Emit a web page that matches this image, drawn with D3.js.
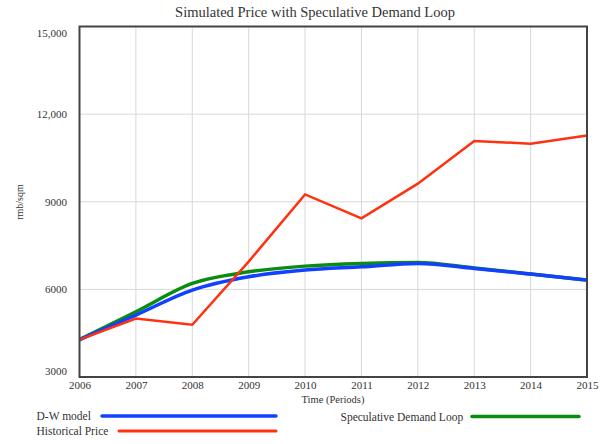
<!DOCTYPE html>
<html>
<head>
<meta charset="utf-8">
<script src="https://cdn.jsdelivr.net/npm/d3@7"></script>
<style>
  html, body { margin: 0; padding: 0; background: #fff; }
  svg { display: block; }
  text { font-family: "Liberation Serif", "Times New Roman", serif; fill: #333; }
</style>
</head>
<body>
<svg id="chart" width="605" height="444"></svg>
<script>
// Yearly series (rmb/sqm)
const years = [2006, 2007, 2008, 2009, 2010, 2011, 2012, 2013, 2014, 2015];
const historicalPrice = [4280, 5000, 4790, 6950, 9250, 8430, 9620, 11080, 10990, 11270];
const dwModel = [4280, 5120, 5975, 6430, 6660, 6772, 6890, 6718, 6523, 6317];
const speculativeDemand = [4280, 5235, 6205, 6600, 6796, 6889, 6920, 6730, 6530, 6320];

const yTicks = [3000, 6000, 9000, 12000, 15000];
const yTickLabels = ["3000", "6000", "9000", "12,000", "15,000"];
const xTickLabels = ["2006", "2007", "2008", "2009", "2010", "2011", "2012", "2013", "2014", "2015"];

const svg = d3.select("#chart");
const plot = { left: 79.5, right: 587, top: 26.5, bottom: 377 };

const x = d3.scaleLinear().domain([2006, 2015]).range([plot.left, plot.right]);
const y = d3.scaleLinear().domain([3000, 15000]).range([plot.bottom, plot.top]);

// Title
svg.append("text")
  .attr("x", 315).attr("y", 17)
  .attr("text-anchor", "middle")
  .style("font-size", "14.5px")
  .text("Simulated Price with Speculative Demand Loop");

// Grid lines
const grid = svg.append("g");
grid.selectAll("line.v").data(years.slice(1, -1)).join("line")
  .attr("x1", d => x(d)).attr("x2", d => x(d))
  .attr("y1", plot.top).attr("y2", plot.bottom)
  .attr("stroke", "#d8d8d8").attr("stroke-width", 1);
grid.selectAll("line.h").data(yTicks.slice(1, -1)).join("line")
  .attr("x1", plot.left).attr("x2", plot.right)
  .attr("y1", d => y(d)).attr("y2", d => y(d))
  .attr("stroke", "#d8d8d8").attr("stroke-width", 1);

// Y axis labels
const yAxis = d3.axisLeft(y)
  .tickValues(yTicks)
  .tickSize(0)
  .tickPadding(0)
  .tickFormat((d, i) => yTickLabels[i]);
const gy = svg.append("g").attr("transform", "translate(67,0)").call(yAxis);
gy.select(".domain").remove();
gy.selectAll("text")
  .style("font-size", "11px")
  .style("font-family", "'Liberation Serif', serif")
  .attr("fill", "#333")
  .attr("dy", d => d === 15000 ? "0.95em" : d === 3000 ? "-0.2em" : "0.32em");

// X axis labels
const xAxis = d3.axisBottom(x)
  .tickValues(years)
  .tickSize(0)
  .tickPadding(0)
  .tickFormat((d, i) => xTickLabels[i]);
const gx = svg.append("g").attr("transform", `translate(0,${plot.bottom + 4})`).call(xAxis);
gx.select(".domain").remove();
gx.selectAll("text")
  .style("font-size", "11px")
  .style("font-family", "'Liberation Serif', serif")
  .attr("fill", "#333");

// Axis titles
svg.append("text")
  .attr("x", 333).attr("y", 403)
  .attr("text-anchor", "middle")
  .style("font-size", "10.5px")
  .text("Time (Periods)");
svg.append("text")
  .attr("transform", "translate(23,202) rotate(-90)")
  .attr("text-anchor", "middle")
  .style("font-size", "10px")
  .text("rmb/sqm");

// Series lines
const smooth = d3.line().x((d, i) => x(years[i])).y(d => y(d)).curve(d3.curveMonotoneX);
const straight = d3.line().x((d, i) => x(years[i])).y(d => y(d));

svg.append("path").datum(speculativeDemand)
  .attr("d", smooth).attr("fill", "none")
  .attr("stroke", "#0a8c12").attr("stroke-width", 3.5);
svg.append("path").datum(dwModel)
  .attr("d", smooth).attr("fill", "none")
  .attr("stroke", "#1240ff").attr("stroke-width", 3.5);
svg.append("path").datum(historicalPrice)
  .attr("d", straight).attr("fill", "none")
  .attr("stroke", "#ff3210").attr("stroke-width", 2.5)
  .attr("stroke-linejoin", "miter");

// Plot frame
svg.append("rect")
  .attr("x", plot.left).attr("y", plot.top)
  .attr("width", plot.right - plot.left).attr("height", plot.bottom - plot.top)
  .attr("fill", "none").attr("stroke", "#444").attr("stroke-width", 2);

// Legend
const legend = [
  { name: "D-W model", color: "#1240ff", tx: 36.5, ty: 416, x1: 102, x2: 276, w: 3.5 },
  { name: "Historical Price", color: "#ff3210", tx: 36.5, ty: 431, x1: 119, x2: 276, w: 3 },
  { name: "Speculative Demand Loop", color: "#0a8c12", tx: 340.5, ty: 416.5, x1: 472, x2: 579, w: 3.5 }
];
const lg = svg.append("g");
lg.selectAll("text").data(legend).join("text")
  .attr("x", d => d.tx).attr("y", d => d.ty)
  .attr("dy", "0.35em")
  .style("font-size", "11.5px")
  .text(d => d.name);
lg.selectAll("line").data(legend).join("line")
  .attr("x1", d => d.x1).attr("x2", d => d.x2)
  .attr("y1", d => d.ty).attr("y2", d => d.ty)
  .attr("stroke", d => d.color).attr("stroke-width", d => d.w)
  .attr("stroke-linecap", "round");
</script>
</body>
</html>
